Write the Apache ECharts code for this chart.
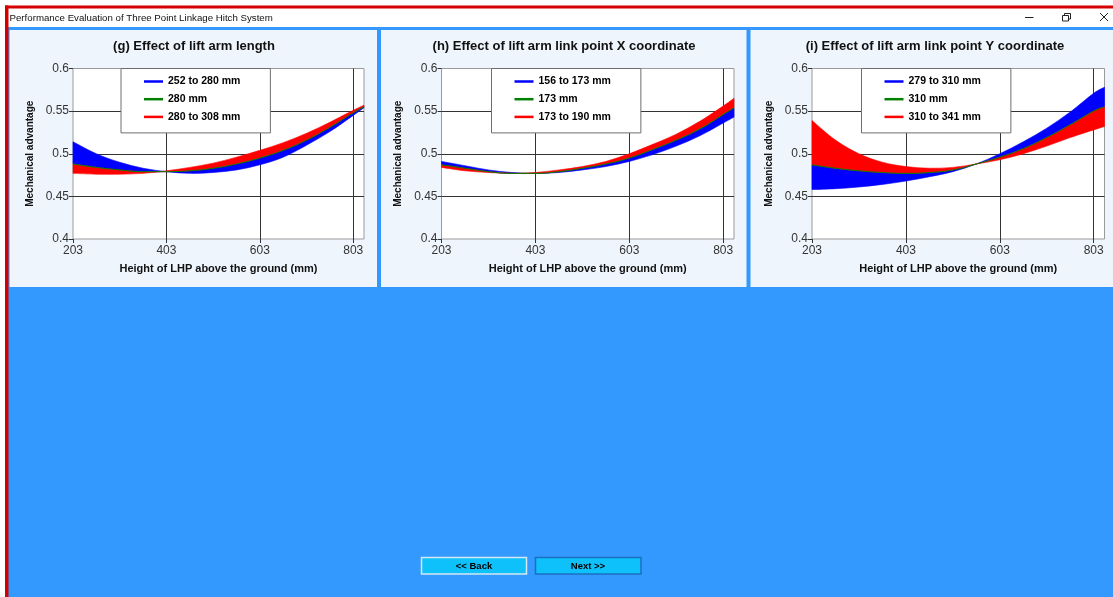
<!DOCTYPE html>
<html><head><meta charset="utf-8">
<script src="https://cdn.jsdelivr.net/npm/echarts@6/dist/echarts.min.js"></script>
<style>html,body{margin:0;padding:0;background:#fff;overflow:hidden}#c{width:1113px;height:597px}</style>
</head><body><div id="c"></div>
<script>
// ---------- data ----------
const windowTitle = 'Performance Evaluation of Three Point Linkage Hitch System';
const xValues = [203, 253, 303, 353, 403, 453, 503, 553, 603, 653, 703, 753, 803, 826];
const xTickLabels = ['203', '403', '603', '803'];
const yAxisName = 'Mechanical advantage';
const xAxisName = 'Height of LHP above the ground (mm)';

// (g) lift arm length
const gTitle = '(g) Effect of lift arm length';
const gNames = ['252 to 280 mm', '280 mm', '280 to 308 mm'];
const g252 = [0.514, 0.500, 0.490, 0.483, 0.479, 0.477, 0.478, 0.481, 0.487, 0.496, 0.510, 0.526, 0.545, 0.554];
const g280 = [0.488, 0.484, 0.481, 0.479, 0.479, 0.480, 0.483, 0.488, 0.495, 0.504, 0.516, 0.531, 0.548, 0.555];
const g308 = [0.477, 0.476, 0.476, 0.477, 0.480, 0.484, 0.489, 0.496, 0.504, 0.513, 0.524, 0.537, 0.551, 0.557];

// (h) lift arm link point X coordinate
const hTitle = '(h) Effect of lift arm link point X coordinate';
const hNames = ['156 to 173 mm', '173 mm', '173 to 190 mm'];
const h156 = [0.491, 0.486, 0.481, 0.478, 0.477, 0.478, 0.481, 0.485, 0.491, 0.499, 0.509, 0.521, 0.536, 0.543];
const h173 = [0.487, 0.483, 0.479, 0.477, 0.477, 0.479, 0.483, 0.488, 0.495, 0.505, 0.516, 0.529, 0.546, 0.554];
const h190 = [0.484, 0.480, 0.478, 0.477, 0.478, 0.481, 0.485, 0.491, 0.500, 0.511, 0.523, 0.538, 0.556, 0.565];

// (i) lift arm link point Y coordinate
const iTitle = '(i) Effect of lift arm link point Y coordinate';
const iNames = ['279 to 310 mm', '310 mm', '310 to 341 mm'];
const i279 = [0.458, 0.459, 0.461, 0.464, 0.468, 0.473, 0.479, 0.488, 0.500, 0.514, 0.530, 0.549, 0.571, 0.578];
const i310 = [0.487, 0.483, 0.480, 0.478, 0.477, 0.478, 0.481, 0.488, 0.496, 0.506, 0.519, 0.534, 0.550, 0.555];
const i341 = [0.539, 0.516, 0.500, 0.490, 0.485, 0.483, 0.484, 0.488, 0.493, 0.500, 0.509, 0.519, 0.528, 0.532];

const buttonLabels = ['<< Back', 'Next >>'];

// ---------- layout / style ----------
const FONT = '"Liberation Sans", Arial, sans-serif';
const BLUE = '#0000ff', GREEN = '#008000', RED = '#ff0000';
const colors = [BLUE, GREEN, RED];

const panels = [
  {title: gTitle, names: gNames, a: g252, m: g280, b: g308, left: 73, width: 291, legendLeft: 121, titleX: 194},
  {title: hTitle, names: hNames, a: h156, m: h173, b: h190, left: 441.5, width: 292.5, legendLeft: 491.5, titleX: 564},
  {title: iTitle, names: iNames, a: i279, m: i310, b: i341, left: 812, width: 292.5, legendLeft: 861.5, titleX: 935}
];
const GRID_TOP = 68.5, GRID_H = 170.5;

// smooth (Catmull-Rom) path through pixel points; 'start' = 'M' or 'L'
function smoothPath(pts, start) {
  let d = start + pts[0][0].toFixed(2) + ' ' + pts[0][1].toFixed(2);
  for (let k = 0; k < pts.length - 1; k++) {
    const p0 = pts[Math.max(k - 1, 0)], p1 = pts[k], p2 = pts[k + 1], p3 = pts[Math.min(k + 2, pts.length - 1)];
    const c1 = [p1[0] + (p2[0] - p0[0]) / 6, p1[1] + (p2[1] - p0[1]) / 6];
    const c2 = [p2[0] - (p3[0] - p1[0]) / 6, p2[1] - (p3[1] - p1[1]) / 6];
    d += ' C' + c1[0].toFixed(2) + ' ' + c1[1].toFixed(2) + ' ' + c2[0].toFixed(2) + ' ' + c2[1].toFixed(2) + ' ' + p2[0].toFixed(2) + ' ' + p2[1].toFixed(2);
  }
  return d;
}

function band(name, color, edge, mid, xi, yi) {
  return {
    type: 'custom', name: name, xAxisIndex: xi, yAxisIndex: yi,
    itemStyle: {color: color}, silent: true, animation: false,
    data: [[xValues[0], mid[0]]],
    renderItem: function (params, api) {
      const top = [], bot = [];
      for (let k = 0; k < xValues.length; k++) top.push(api.coord([xValues[k], edge[k]]));
      for (let k = xValues.length - 1; k >= 0; k--) bot.push(api.coord([xValues[k], mid[k]]));
      const d = smoothPath(top, 'M') + ' ' + smoothPath(bot, 'L') + ' Z';
      return {type: 'path', shape: {pathData: d, layout: 'center'}, style: {fill: color, stroke: color, lineWidth: 0.6}};
    }
  };
}

const grid = [], xAxis = [], yAxis = [], series = [], legend = [];
panels.forEach((p, i) => {
  grid.push({left: p.left, top: GRID_TOP, width: p.width, height: GRID_H, show: true,
    backgroundColor: '#ffffff', borderColor: '#9a9a9a', borderWidth: 1, containLabel: false});
  // data axis (hidden)
  xAxis.push({type: 'value', gridIndex: i, min: xValues[0], max: xValues[xValues.length - 1], show: false, position: 'top'});
  // display axis (ticks every 200 counted from 203)
  xAxis.push({type: 'value', gridIndex: i, position: 'bottom', min: 0, max: xValues[xValues.length - 1] - xValues[0], interval: 200,
    axisLine: {show: false},
    axisTick: {show: true, length: 4, lineStyle: {color: '#333'}},
    axisLabel: {margin: 6, fontFamily: FONT, fontSize: 12, color: '#333', showMaxLabel: false,
      formatter: v => (v % 200 === 0 ? xTickLabels[v / 200] : '')},
    splitLine: {show: true, showMinLine: false, showMaxLine: false, lineStyle: {color: '#333', width: 1}},
    name: xAxisName, nameLocation: 'middle', nameGap: 24,
    nameTextStyle: {fontFamily: FONT, fontSize: 11, fontWeight: 'bold', color: '#111'}
  });
  yAxis.push({type: 'value', gridIndex: i, min: 0.4, max: 0.6, interval: 0.05,
    axisLine: {show: false},
    axisTick: {show: true, length: 4, lineStyle: {color: '#333'}},
    axisLabel: {margin: 4, fontFamily: FONT, fontSize: 12, color: '#333'},
    splitLine: {show: true, showMinLine: false, showMaxLine: false, lineStyle: {color: '#333', width: 1}},
    name: yAxisName, nameLocation: 'middle', nameGap: 38,
    nameTextStyle: {fontFamily: FONT, fontSize: 10, fontWeight: 'bold', color: '#111'}
  });
  const xi = 2 * i;
  series.push(band(p.names[0], BLUE, p.a, p.m, xi, i));
  series.push({type: 'line', name: p.names[1], xAxisIndex: xi, yAxisIndex: i, smooth: true, symbol: 'none',
    lineStyle: {color: GREEN, width: 1}, itemStyle: {color: GREEN}, silent: true,
    data: xValues.map((x, k) => [x, p.m[k]])});
  series.push(band(p.names[2], RED, p.b, p.m, xi, i));
  legend.push({orient: 'vertical', left: p.legendLeft, top: GRID_TOP, padding: [7, 30, 10, 23], itemGap: 5.7,
    itemWidth: 19, itemHeight: 2.5, backgroundColor: '#ffffff', borderColor: '#6e6e6e', borderWidth: 1,
    selectedMode: false, z: 6,
    textStyle: {fontFamily: FONT, fontSize: 10.5, fontWeight: 'bold', color: '#000', lineHeight: 12},
    data: p.names.map((n, k) => ({name: n, icon: 'rect', itemStyle: {color: colors[k]}}))
  });
});

const graphic = [
  {type: 'rect', z: -20, shape: {x: 0, y: 0, width: 1113, height: 597}, style: {fill: '#ffffff'}},
  {type: 'rect', z: -19, shape: {x: 8, y: 27, width: 1105, height: 570}, style: {fill: '#3399ff'}},
  {type: 'rect', z: -19, shape: {x: 8.5, y: 8.5, width: 1104.5, height: 18.5}, style: {fill: '#ffffff'}},
  {type: 'rect', z: -18, shape: {x: 5, y: 5.5, width: 1108, height: 3}, style: {fill: '#d40000'}},
  {type: 'rect', z: -18, shape: {x: 5, y: 5.5, width: 3.5, height: 592}, style: {fill: '#d40000'}},
  {type: 'rect', z: -18, shape: {x: 9.5, y: 30, width: 367.5, height: 257}, style: {fill: '#eef5fc'}},
  {type: 'rect', z: -18, shape: {x: 381, y: 30, width: 365.5, height: 257}, style: {fill: '#eef5fc'}},
  {type: 'rect', z: -18, shape: {x: 750.5, y: 30, width: 362.5, height: 257}, style: {fill: '#eef5fc'}},
  {type: 'text', z: 10, style: {text: windowTitle, x: 9.5, y: 18.5, textVerticalAlign: 'middle', fill: '#111', font: '9.7px ' + FONT}},
  {type: 'line', z: 10, shape: {x1: 1025, y1: 17.5, x2: 1033.5, y2: 17.5}, style: {stroke: '#222', lineWidth: 1}},
  {type: 'rect', z: 10, shape: {x: 1062.5, y: 15.5, width: 6, height: 5.5}, style: {fill: 'none', stroke: '#222', lineWidth: 1}},
  {type: 'polyline', z: 10, shape: {points: [[1064.5, 15.5], [1064.5, 13.5], [1070.5, 13.5], [1070.5, 19], [1068.5, 19]]}, style: {fill: 'none', stroke: '#222', lineWidth: 1}},
  {type: 'line', z: 10, shape: {x1: 1100, y1: 13, x2: 1108, y2: 21}, style: {stroke: '#222', lineWidth: 1}},
  {type: 'line', z: 10, shape: {x1: 1108, y1: 13, x2: 1100, y2: 21}, style: {stroke: '#222', lineWidth: 1}},
  {type: 'rect', z: 10, shape: {x: 421.5, y: 557.5, width: 105, height: 16.5}, style: {fill: '#0ec1fb', stroke: '#d6e6f0', lineWidth: 1.5}},
  {type: 'rect', z: 10, shape: {x: 535.5, y: 557.5, width: 105.5, height: 16.5}, style: {fill: '#0ec1fb', stroke: '#1c6fc0', lineWidth: 1.5}},
  {type: 'text', z: 11, style: {text: buttonLabels[0], x: 474, y: 566, textAlign: 'center', textVerticalAlign: 'middle', fill: '#000', font: 'bold 9.5px ' + FONT}},
  {type: 'text', z: 11, style: {text: buttonLabels[1], x: 588, y: 566, textAlign: 'center', textVerticalAlign: 'middle', fill: '#000', font: 'bold 9.5px ' + FONT}}
];
panels.forEach(p => {
  graphic.push({type: 'text', z: 10, style: {text: p.title, x: p.titleX, y: 46, textAlign: 'center', textVerticalAlign: 'middle', fill: '#111', font: 'bold 13px ' + FONT}});
});

const chart = echarts.init(document.getElementById('c'), null, {renderer: 'canvas'});
chart.setOption({
  animation: false,
  backgroundColor: '#ffffff',
  grid: grid, xAxis: xAxis, yAxis: yAxis, series: series, legend: legend, graphic: graphic
});
</script>
</body></html>
